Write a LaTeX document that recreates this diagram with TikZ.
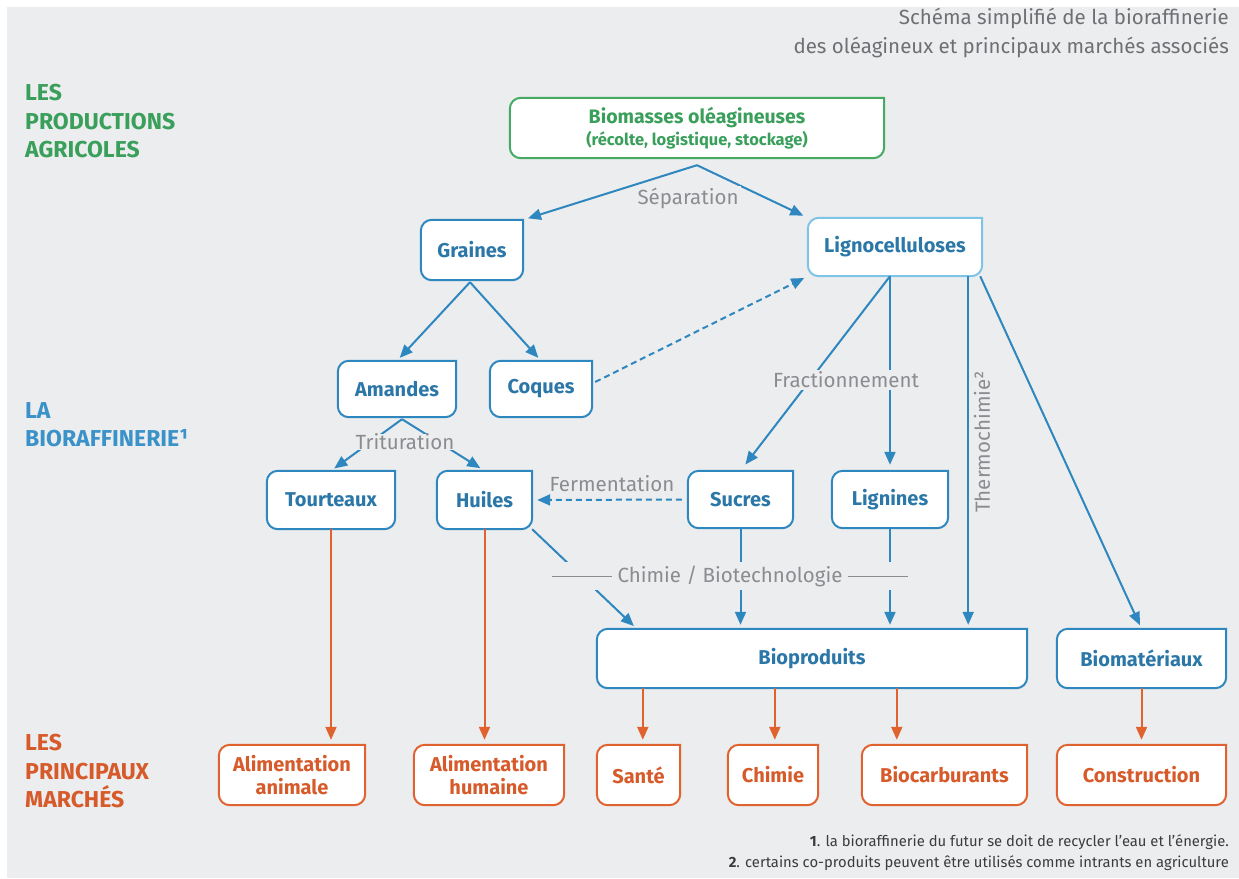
\documentclass[tikz,border=0pt]{standalone}
\usepackage{fontspec}
\setmainfont{Fira Sans}
\usetikzlibrary{arrows.meta,calc}
\pgfdeclarelayer{background}
\pgfsetlayers{background,main}
\definecolor{bgc}{HTML}{ECEDEF}
\definecolor{greenB}{HTML}{45AA62}
\definecolor{greenT}{HTML}{3A9F5B}
\definecolor{blueB}{HTML}{2E87BE}
\definecolor{blueT}{HTML}{2B77A7}
\definecolor{blueL}{HTML}{7EC4E6}
\definecolor{blueH}{HTML}{3A92C8}
\definecolor{orangeB}{HTML}{E0632F}
\definecolor{orangeT}{HTML}{D65A2A}
\definecolor{grayL}{HTML}{8A8C8F}
\definecolor{titleC}{HTML}{6E7073}
\definecolor{footC}{HTML}{3C3C3C}
\newcommand{\bx}[2]{\draw[#2,line width=2pt,fill=white,rounded corners=11pt,line cap=rect] (#1.north east) -- (#1.north west) -- (#1.south west) -- (#1.south east) -- (#1.north east);}
\tikzset{
  nbox/.style={inner sep=0pt, align=center, font=\bfseries\fontsize{20}{23}\selectfont},
  gbox/.style={nbox, text=greenT},
  bbox/.style={nbox, text=blueT},
  obox/.style={nbox, text=orangeT},
  arr/.style={draw=blueB, line width=2pt, -{Triangle[length=13pt,width=11pt]}, shorten >=5pt},
  darr/.style={arr, dash pattern=on 6pt off 4pt},
  oarr/.style={draw=orangeB, line width=2pt, -{Triangle[length=13pt,width=11pt]}, shorten >=5pt},
  lab/.style={text=grayL, font=\fontsize{20.5}{23}\selectfont, fill=bgc, inner sep=2pt},
  head/.style={anchor=north west, align=left, inner sep=0pt, font=\bfseries\fontsize{23}{28.5}\selectfont},
  rule/.style={draw=grayL, line width=1pt}
}
\begin{document}
\begin{tikzpicture}[x=1pt,y=-1pt]
\useasboundingbox (0,0) rectangle (1239,878);
% headings
\node[head, text=greenT] (h1) at (25,84) {LES\\PRODUCTIONS\\AGRICOLES};
\node[head, text=blueH] (h2) at (25,402) {LA\\BIORAFFINERIE¹};
\node[head, text=orangeT] (h3) at (25,734) {LES\\PRINCIPAUX\\MARCHÉS};
% title
\node[anchor=north east, align=right, inner sep=0pt, text=titleC, font=\fontsize{20.5}{29}\selectfont] (title) at (1229,8)
  {Schéma simplifié de la bioraffinerie\\des oléagineux et principaux marchés associés};
% boxes
\node[gbox, minimum width=374pt, minimum height=60pt] (bio) at (697,128)
  {\fontsize{19.5}{22}\selectfont Biomasses oléagineuses\\[-1pt]{\fontsize{16.5}{19}\selectfont(récolte, logistique, stockage)}};
\node[bbox, minimum width=102pt, minimum height=60pt] (gra) at (472,250) {Graines};
\node[bbox, minimum width=174pt, minimum height=58pt] (lig) at (895,247) {Lignocelluloses};
\node[bbox, minimum width=118pt, minimum height=56pt] (ama) at (397,389) {Amandes};
\node[bbox, minimum width=102pt, minimum height=56pt] (coq) at (541,389) {Coques};
\node[bbox, minimum width=128pt, minimum height=58pt] (tou) at (331,500) {Tourteaux};
\node[bbox, minimum width=95pt, minimum height=58pt] (hui) at (484.5,500) {Huiles};
\node[bbox, minimum width=105pt, minimum height=57pt] (suc) at (740.5,499.5) {Sucres};
\node[bbox, minimum width=116pt, minimum height=57pt] (lgn) at (890,499.5) {Lignines};
\node[bbox, minimum width=430pt, minimum height=59pt] (bpr) at (812,658.5) {Bioproduits};
\node[bbox, minimum width=169pt, minimum height=59pt] (bma) at (1141.5,658.5) {Biomatériaux};
\node[obox, minimum width=146pt, minimum height=60pt] (aan) at (292,775) {Alimentation\\animale};
\node[obox, minimum width=150pt, minimum height=60pt] (ahu) at (489,775) {Alimentation\\humaine};
\node[obox, minimum width=83pt, minimum height=60pt] (san) at (638.5,775) {Santé};
\node[obox, minimum width=90pt, minimum height=60pt] (chi) at (773,775) {Chimie};
\node[obox, minimum width=165pt, minimum height=60pt] (bca) at (944.5,775) {Biocarburants};
\node[obox, minimum width=169pt, minimum height=60pt] (con) at (1141.5,775) {Construction};
% outlines and background
\begin{pgfonlayer}{background}
\fill[bgc] (7,7) rectangle (1239,878);
\bx{bio}{greenB}
\bx{gra}{blueB}
\bx{lig}{blueL}
\bx{ama}{blueB}
\bx{coq}{blueB}
\bx{tou}{blueB}
\bx{hui}{blueB}
\bx{suc}{blueB}
\bx{lgn}{blueB}
\bx{bpr}{blueB}
\bx{bma}{blueB}
\bx{aan}{orangeB}
\bx{ahu}{orangeB}
\bx{san}{orangeB}
\bx{chi}{orangeB}
\bx{bca}{orangeB}
\bx{con}{orangeB}
\end{pgfonlayer}
% connectors
\coordinate (sep) at ($(bio.south)+(0,7)$);
\draw[arr] (sep) -- (gra.north east);
\draw[arr] (sep) -- (lig.north west);
\draw[arr, shorten >=4pt] ($(gra.south)+(-2,2)$) -- (ama.north);
\draw[arr, shorten >=4pt] ($(gra.south)+(-2,2)$) -- (coq.north);
\draw[darr, shorten >=4pt] ($(coq.east)+(3,-7)$) -- (lig.south west);
\coordinate (fr) at (lig.south -| lgn.north);
\draw[arr, shorten >=8pt] (fr) -- (suc.north);
\draw[arr, shorten >=6pt] (fr) -- (lgn.north);
\coordinate (th) at ($(lig.south east)+(-14,0)$);
\draw[arr, shorten >=4pt] (th) -- (th |- bpr.north);
\draw[arr, shorten >=4pt] ($(lig.south east)+(-2,0)$) -- (bma.north);
\coordinate (tr) at ($(ama.south)+(5,2)$);
\draw[arr, shorten >=4pt] (tr) -- (tou.north);
\draw[arr, shorten >=5pt] (tr) -- (hui.north);
\draw[darr, shorten >=5pt, shorten <=6pt] (suc.west) -- (hui.east);
\draw[arr, shorten >=4pt] (hui.south east) -- ($(bpr.north west)+(40,0)$);
\draw[arr, shorten >=4pt] (suc.south) -- (suc.south |- bpr.north);
\draw[arr, shorten >=4pt] (lgn.south) -- (lgn.south |- bpr.north);
\draw[oarr] (tou.south) -- (tou.south |- aan.north);
\draw[oarr] (hui.south) -- (hui.south |- ahu.north);
\draw[oarr] ($(bpr.south west)+(46,0)$) coordinate (b1) -- (b1 |- san.north);
\draw[oarr] ($(bpr.south west)+(178,0)$) coordinate (b2) -- (b2 |- chi.north);
\draw[oarr] ($(bpr.south west)+(300,0)$) coordinate (b3) -- (b3 |- bca.north);
\draw[oarr] (bma.south) -- (con.north);
% labels
\node[lab] (lsep) at (688,198) {Séparation};
\node[lab, inner xsep=1pt, inner ysep=0pt] (ltri) at (405,442) {Trituration};
\node[lab, fill=none] (lfer) at (612,484) {Fermentation};
\node[lab] (lfra) at (846,380) {Fractionnement};
\node[lab, fill=none, rotate=90] (lthe) at (982,442) {Thermochimie²};
\node[fill=bgc, minimum width=356pt, minimum height=28pt, inner sep=0pt] (cb) at (730,576) {};
\node[lab, fill=none, inner xsep=5pt] (ct) at (cb.center) {Chimie / Biotechnologie};
\draw[rule] (cb.west) -- (ct.west);
\draw[rule] (ct.east) -- (cb.east);
% footnotes
\node[anchor=south east, align=right, inner sep=0pt, text=footC, font=\fontsize{14.8}{21}\selectfont] (foot) at (1229,871)
  {\textbf{1}. la bioraffinerie du futur se doit de recycler l’eau et l’énergie.\\\textbf{2}. certains co-produits peuvent être utilisés comme intrants en agriculture};
\end{tikzpicture}
\end{document}
